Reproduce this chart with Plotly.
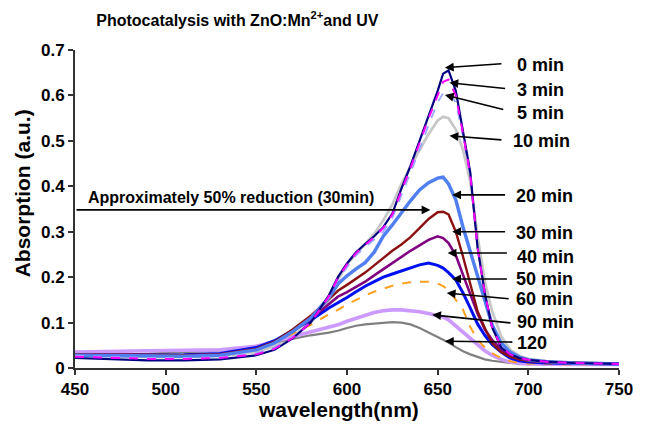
import plotly.graph_objects as go

# ---------------- data ----------------
wavelength = [450, 470, 490, 510, 530, 550, 560, 570, 580, 590, 595, 600, 605, 610, 615,
              620, 625, 630, 635, 640, 645, 650, 653, 656, 660, 664, 668, 672, 676, 680,
              685, 690, 695, 700, 710, 725, 750]

abs_0min = [0.022, 0.019, 0.017, 0.017, 0.019, 0.028, 0.040, 0.065, 0.100, 0.160, 0.200, 0.230, 0.255, 0.273, 0.290,
            0.310, 0.340, 0.395, 0.445, 0.500, 0.555, 0.610, 0.648, 0.655, 0.610, 0.520, 0.430, 0.265, 0.165, 0.090,
            0.045, 0.030, 0.022, 0.018, 0.014, 0.011, 0.009]
abs_3min = [0.025, 0.022, 0.020, 0.020, 0.022, 0.030, 0.042, 0.066, 0.100, 0.158, 0.198, 0.228, 0.253, 0.271, 0.288,
            0.308, 0.338, 0.390, 0.440, 0.495, 0.550, 0.600, 0.630, 0.635, 0.600, 0.515, 0.425, 0.265, 0.165, 0.090,
            0.047, 0.030, 0.022, 0.018, 0.014, 0.011, 0.009]
abs_5min = [0.027, 0.024, 0.022, 0.022, 0.024, 0.032, 0.045, 0.068, 0.100, 0.155, 0.195, 0.222, 0.248, 0.266, 0.283,
            0.300, 0.330, 0.380, 0.430, 0.480, 0.535, 0.585, 0.605, 0.607, 0.585, 0.510, 0.420, 0.265, 0.165, 0.090,
            0.047, 0.030, 0.022, 0.018, 0.014, 0.011, 0.009]
abs_10min = [0.028, 0.026, 0.024, 0.024, 0.026, 0.035, 0.048, 0.070, 0.100, 0.150, 0.195, 0.228, 0.252, 0.273, 0.295,
             0.325, 0.360, 0.405, 0.443, 0.480, 0.515, 0.545, 0.553, 0.550, 0.525, 0.480, 0.410, 0.290, 0.190, 0.125,
             0.070, 0.040, 0.027, 0.020, 0.015, 0.012, 0.010]
abs_20min = [0.028, 0.027, 0.026, 0.026, 0.028, 0.040, 0.055, 0.080, 0.110, 0.155, 0.185, 0.203, 0.218, 0.232, 0.255,
             0.290, 0.315, 0.343, 0.368, 0.392, 0.408, 0.418, 0.420, 0.405, 0.370, 0.310, 0.255, 0.200, 0.145, 0.095,
             0.055, 0.035, 0.024, 0.018, 0.014, 0.011, 0.009]
abs_30min = [0.030, 0.029, 0.028, 0.028, 0.030, 0.042, 0.058, 0.085, 0.115, 0.152, 0.170, 0.183, 0.196, 0.210, 0.226,
             0.243, 0.258, 0.272, 0.288, 0.308, 0.328, 0.343, 0.344, 0.338, 0.300, 0.245, 0.185, 0.125, 0.088, 0.055,
             0.035, 0.025, 0.019, 0.016, 0.013, 0.011, 0.009]
abs_40min = [0.030, 0.029, 0.028, 0.028, 0.030, 0.042, 0.056, 0.080, 0.108, 0.142, 0.157, 0.167, 0.178, 0.190, 0.204,
             0.218, 0.232, 0.245, 0.258, 0.270, 0.282, 0.290, 0.286, 0.275, 0.248, 0.205, 0.160, 0.120, 0.085, 0.062,
             0.042, 0.028, 0.020, 0.016, 0.013, 0.011, 0.009]
abs_50min = [0.028, 0.028, 0.028, 0.029, 0.032, 0.045, 0.060, 0.082, 0.105, 0.132, 0.143, 0.155, 0.168, 0.180, 0.190,
             0.200, 0.207, 0.214, 0.220, 0.227, 0.231, 0.226, 0.220, 0.210, 0.194, 0.165, 0.132, 0.097, 0.072, 0.052,
             0.035, 0.022, 0.016, 0.013, 0.011, 0.010, 0.009]
abs_60min = [0.028, 0.028, 0.028, 0.029, 0.032, 0.043, 0.056, 0.075, 0.095, 0.118, 0.128, 0.140, 0.150, 0.160, 0.168,
             0.175, 0.181, 0.186, 0.189, 0.190, 0.190, 0.186, 0.180, 0.172, 0.150, 0.128, 0.090, 0.062, 0.045, 0.033,
             0.022, 0.015, 0.012, 0.010, 0.009, 0.008, 0.008]
abs_90min = [0.035, 0.037, 0.038, 0.039, 0.040, 0.048, 0.058, 0.070, 0.080, 0.090, 0.095, 0.103, 0.110, 0.117, 0.122,
             0.126, 0.128, 0.128, 0.127, 0.124, 0.120, 0.116, 0.112, 0.106, 0.092, 0.078, 0.064, 0.050, 0.038, 0.028,
             0.019, 0.013, 0.010, 0.009, 0.008, 0.008, 0.008]
abs_120min = [0.025, 0.028, 0.031, 0.034, 0.038, 0.048, 0.056, 0.064, 0.072, 0.078, 0.082, 0.088, 0.093, 0.096, 0.098,
              0.100, 0.101, 0.100, 0.096, 0.088, 0.078, 0.068, 0.062, 0.056, 0.046, 0.037, 0.030, 0.024, 0.019, 0.016,
              0.013, 0.011, 0.010, 0.009, 0.008, 0.008, 0.008]

series_names = ["0 min", "3 min", "5 min", "10 min", "20 min", "30 min", "40 min",
                "50 min", "60 min", "90 min", "120"]
series_values = [abs_0min, abs_3min, abs_5min, abs_10min, abs_20min, abs_30min, abs_40min,
                 abs_50min, abs_60min, abs_90min, abs_120min]

# label text positions (wavelength, absorption) and arrow heads
label_x = [692.5, 692.5, 692.5, 690.5, 692, 692, 692.5, 692, 692, 692.5, 692.5]
label_y = [0.667, 0.612, 0.562, 0.500, 0.379, 0.297, 0.244, 0.196, 0.152, 0.101, 0.055]
arrow_tail_x = [686, 688, 687, 686, 688, 688, 689, 689, 690, 691, 692]
arrow_tail_y = [0.670, 0.615, 0.568, 0.502, 0.381, 0.300, 0.253, 0.196, 0.152, 0.099, 0.057]
arrow_head_x = [654, 656.5, 654, 656.5, 658, 658, 655.5, 658, 655, 647, 654]
arrow_head_y = [0.661, 0.628, 0.601, 0.511, 0.381, 0.300, 0.253, 0.196, 0.165, 0.117, 0.059]

half_level = 0.348
half_line_x = [450, 646]

x_ticks = [450, 500, 550, 600, 650, 700, 750]
y_ticks = [0, 0.1, 0.2, 0.3, 0.4, 0.5, 0.6, 0.7]
y_ticktext = ["0", "0.1", "0.2", "0.3", "0.4", "0.5", "0.6", "0.7"]

# ---------------- styles ----------------
styles = {
    "0 min": dict(color="#000080", width=2.2, dash="solid"),
    "3 min": dict(color="#FF00FF", width=2, dash="dash"),
    "5 min": dict(color="#9AA6FF", width=1.8, dash="dash"),
    "10 min": dict(color="#C8C8C8", width=2.8, dash="solid"),
    "20 min": dict(color="#4F7FF0", width=3.4, dash="solid"),
    "30 min": dict(color="#8B1010", width=2.4, dash="solid"),
    "40 min": dict(color="#800080", width=2.6, dash="solid"),
    "50 min": dict(color="#0010F0", width=3.0, dash="solid"),
    "60 min": dict(color="#FFA020", width=2, dash="dash"),
    "90 min": dict(color="#CC99FF", width=3.6, dash="solid"),
    "120": dict(color="#808080", width=2.2, dash="solid"),
}
draw_order = ["10 min", "120", "90 min", "60 min", "50 min", "40 min", "30 min",
              "20 min", "5 min", "0 min", "3 min"]

FONT = "Liberation Sans, Arial, sans-serif"

fig = go.Figure()
for name in draw_order:
    i = series_names.index(name)
    fig.add_trace(go.Scatter(x=wavelength, y=series_values[i], mode="lines",
                             name=name, line=styles[name], showlegend=False))

annotations = []
for i, name in enumerate(series_names):
    annotations.append(dict(x=arrow_head_x[i], y=arrow_head_y[i], ax=arrow_tail_x[i], ay=arrow_tail_y[i],
                            xref="x", yref="y", axref="x", ayref="y", text="", showarrow=True,
                            arrowhead=2, arrowsize=1.1, arrowwidth=1.6, arrowcolor="#000000"))
    annotations.append(dict(x=label_x[i], y=label_y[i], xref="x", yref="y", text="<b>%s</b>" % name,
                            showarrow=False, xanchor="left", yanchor="middle",
                            font=dict(family=FONT, size=18, color="#000000")))

annotations.append(dict(x=half_line_x[1], y=half_level, ax=half_line_x[0], ay=half_level,
                        xref="x", yref="y", axref="x", ayref="y", text="", showarrow=True,
                        arrowhead=2, arrowsize=1.1, arrowwidth=1.6, arrowcolor="#000000"))
annotations.append(dict(x=456, y=half_level, xref="x", yref="y", yshift=12,
                        text="<b>Approximately 50% reduction (30min)</b>", showarrow=False,
                        xanchor="left", yanchor="middle", font=dict(family=FONT, size=16, color="#000000")))

annotations.append(dict(x=-0.097, y=0.55, xref="paper", yref="paper", text="<b>Absorption (a.u.)</b>",
                        textangle=-90, showarrow=False, xanchor="center", yanchor="middle",
                        font=dict(family=FONT, size=21, color="#000000")))
annotations.append(dict(x=0.484, y=-0.132, xref="paper", yref="paper", text="<b>wavelength(nm)</b>",
                        showarrow=False, xanchor="center", yanchor="middle",
                        font=dict(family=FONT, size=21, color="#000000")))

fig.update_layout(
    width=645, height=425,
    margin=dict(l=75, r=18, t=50, b=57),
    paper_bgcolor="white", plot_bgcolor="white",
    title=dict(text="<b>Photocatalysis with ZnO:Mn<sup>2+</sup>and UV</b>", x=0.368, y=0.953,
               xanchor="center", yanchor="middle", font=dict(family=FONT, size=16, color="#000000")),
    annotations=annotations,
    showlegend=False,
)
fig.update_xaxes(range=[450, 750], tickvals=x_ticks, ticktext=["<b>%d</b>" % t for t in x_ticks],
                 ticks="outside", ticklen=5, tickwidth=1.5,
                 tickcolor="#333333", showline=True, linecolor="#333333", linewidth=2,
                 showgrid=False, zeroline=False,
                 tickfont=dict(family=FONT, size=17, color="#000000"))
fig.update_yaxes(range=[0, 0.7], tickvals=y_ticks, ticktext=["<b>%s</b>" % t for t in y_ticktext],
                 ticks="outside", ticklen=5, tickwidth=1.5, tickcolor="#333333", showline=True,
                 linecolor="#333333", linewidth=2, showgrid=False, zeroline=False,
                 tickfont=dict(family=FONT, size=17, color="#000000"))

fig.write_html("out.html")
